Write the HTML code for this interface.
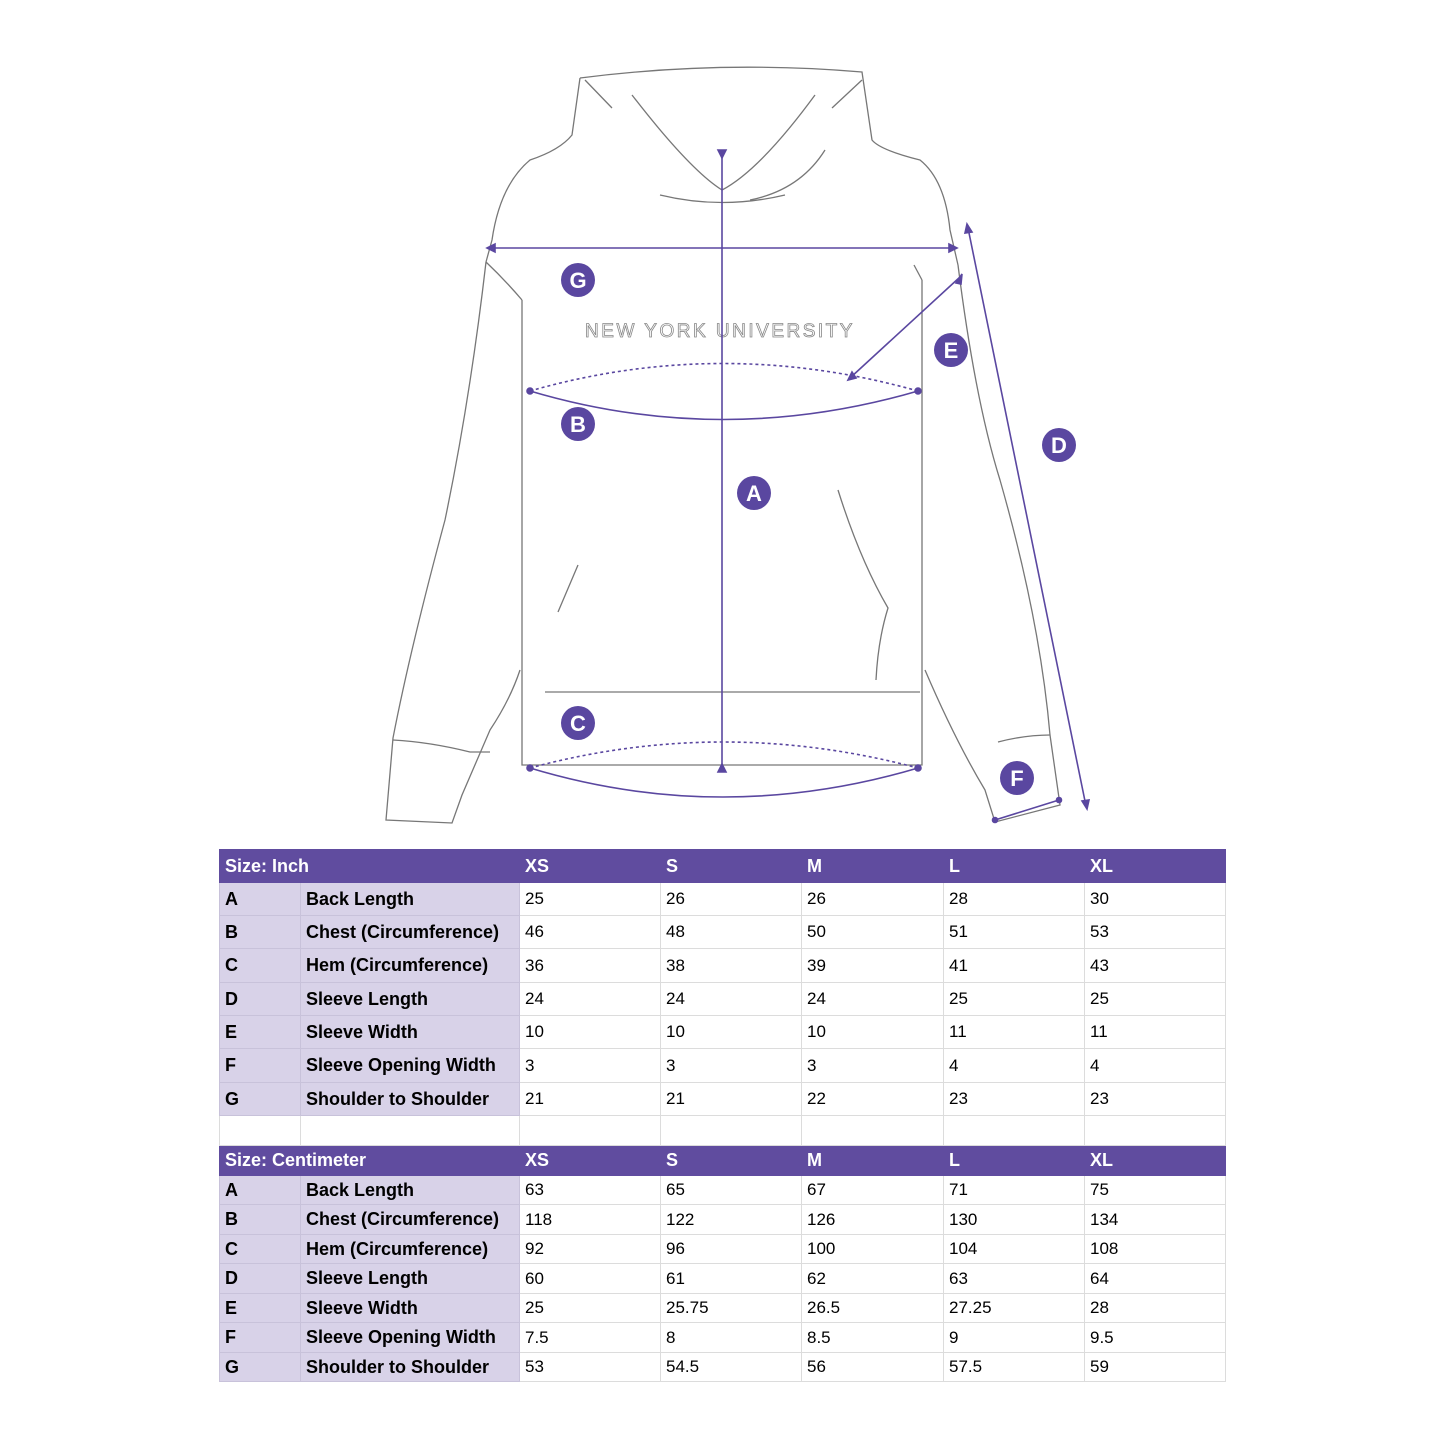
<!DOCTYPE html>
<html><head><meta charset="utf-8"><style>
body{margin:0;background:#fff;width:1445px;height:1445px;position:relative;overflow:hidden;font-family:"Liberation Sans",Arial,sans-serif}
svg{position:absolute;left:0;top:0}
.t{position:absolute;left:219px;border-collapse:collapse;table-layout:fixed;font-size:17px;color:#000}
.t td{border:1px solid #dcdcdc;padding:0 0 0 5px;white-space:nowrap;overflow:hidden}
.t tr.h td{background:#604c9f;color:#fff;font-weight:bold;border-color:#604c9f;font-size:18px}
.t td.l{background:#d8d2e8;font-weight:bold;border-color:#c8c2da;font-size:18px}
</style></head><body>
<svg width="1445" height="840" viewBox="0 0 1445 840">
<g fill="none" stroke="#777" stroke-width="1.3">
<path d="M580 78 Q720 60 862 72 L872 140 Q880 150 920 160 Q945 180 950 230 L958 265"/>
<path d="M580 78 L572 135 Q560 150 530 160 Q500 185 492 240 L486 262"/>
<path d="M585 80 L612 108 M632 95 Q690 170 722 190 M862 80 L832 108 M815 95 Q760 170 722 190"/>
<path d="M660 195 Q722 210 785 195 M825 150 Q800 190 750 200"/>
<path d="M486 262 Q470 400 445 520 Q410 650 393 738 L386 820 L452 823 L462 795 L490 730 Q510 700 520 670"/>
<path d="M393 740 Q430 742 470 752 L490 752"/>
<path d="M486 262 Q505 280 522 300"/>
<path d="M958 265 Q975 400 1000 480 Q1040 620 1050 735 L1060 805 L995 822 L985 790 Q955 740 925 670"/>
<path d="M998 742 Q1025 735 1050 735"/>
<path d="M914 265 L922 280"/>
<path d="M522 300 L522 765 L922 765 L922 280"/>
<path d="M545 692 L920 692"/>
<path d="M578 565 L558 612 M838 490 Q860 560 888 608 Q878 640 876 680"/>
</g>
<text x="720" y="337" text-anchor="middle" font-family="Liberation Sans,sans-serif" font-size="19" letter-spacing="2.5" fill="#fff" stroke="#888" stroke-width="0.8">NEW YORK UNIVERSITY</text>
<g stroke="#5a47a0" stroke-width="1.6" fill="#5a47a0">
<line x1="722" y1="152" x2="722" y2="770"/>
<polygon points="718,150 726,150 722,158"/><polygon points="718,772 726,772 722,764"/>
<line x1="489" y1="248" x2="955" y2="248"/>
<polygon points="487,248 495,244 495,252"/><polygon points="957,248 949,244 949,252"/>
<path d="M530 391 Q722 336 918 391" fill="none" stroke-dasharray="3,3"/>
<path d="M530 391 Q722 448 918 391" fill="none"/>
<circle cx="530" cy="391" r="3"/><circle cx="918" cy="391" r="3"/>
<path d="M530 768 Q722 716 918 768" fill="none" stroke-dasharray="3,3"/>
<path d="M530 768 Q722 826 918 768" fill="none"/>
<circle cx="530" cy="768" r="3"/><circle cx="918" cy="768" r="3"/>
<line x1="960" y1="277" x2="850" y2="378"/>
<polygon points="962,274 956,283 961,284"/><polygon points="848,380 852,372 856,378"/>
<line x1="968" y1="228" x2="1086" y2="806"/>
<polygon points="967,224 972,232 965,233"/><polygon points="1087,809 1082,801 1089,800"/>
<line x1="995" y1="820" x2="1059" y2="800"/>
<circle cx="995" cy="820" r="2.5"/><circle cx="1059" cy="800" r="2.5"/>
</g>
<g font-family="Liberation Sans,sans-serif" font-weight="bold" font-size="22" fill="#fff" text-anchor="middle">
<circle cx="578" cy="280" r="17" fill="#5a47a0"/><text x="578" y="288">G</text>
<circle cx="578" cy="424" r="17" fill="#5a47a0"/><text x="578" y="432">B</text>
<circle cx="951" cy="350" r="17" fill="#5a47a0"/><text x="951" y="358">E</text>
<circle cx="1059" cy="445" r="17" fill="#5a47a0"/><text x="1059" y="453">D</text>
<circle cx="754" cy="493" r="17" fill="#5a47a0"/><text x="754" y="501">A</text>
<circle cx="578" cy="723" r="17" fill="#5a47a0"/><text x="578" y="731">C</text>
<circle cx="1017" cy="778" r="17" fill="#5a47a0"/><text x="1017" y="786">F</text>
</g>
</svg>

<table class="t" style="top:849px">
<colgroup><col style="width:81px"><col style="width:219px"><col style="width:141px"><col style="width:141px"><col style="width:142px"><col style="width:141px"><col style="width:141px"></colgroup>
<tr class="h" style="height:33px"><td colspan="2">Size: Inch</td><td>XS</td><td>S</td><td>M</td><td>L</td><td>XL</td></tr>
<tr style="height:33px"><td class="l">A</td><td class="l">Back Length</td><td>25</td><td>26</td><td>26</td><td>28</td><td>30</td></tr>
<tr style="height:33px"><td class="l">B</td><td class="l">Chest (Circumference)</td><td>46</td><td>48</td><td>50</td><td>51</td><td>53</td></tr>
<tr style="height:34px"><td class="l">C</td><td class="l">Hem (Circumference)</td><td>36</td><td>38</td><td>39</td><td>41</td><td>43</td></tr>
<tr style="height:33px"><td class="l">D</td><td class="l">Sleeve Length</td><td>24</td><td>24</td><td>24</td><td>25</td><td>25</td></tr>
<tr style="height:33px"><td class="l">E</td><td class="l">Sleeve Width</td><td>10</td><td>10</td><td>10</td><td>11</td><td>11</td></tr>
<tr style="height:34px"><td class="l">F</td><td class="l">Sleeve Opening Width</td><td>3</td><td>3</td><td>3</td><td>4</td><td>4</td></tr>
<tr style="height:33px"><td class="l">G</td><td class="l">Shoulder to Shoulder</td><td>21</td><td>21</td><td>22</td><td>23</td><td>23</td></tr>
<tr style="height:30px"><td></td><td></td><td></td><td></td><td></td><td></td><td></td></tr>
<tr class="h" style="height:30px"><td colspan="2">Size: Centimeter</td><td>XS</td><td>S</td><td>M</td><td>L</td><td>XL</td></tr>
<tr style="height:29px"><td class="l">A</td><td class="l">Back Length</td><td>63</td><td>65</td><td>67</td><td>71</td><td>75</td></tr>
<tr style="height:30px"><td class="l">B</td><td class="l">Chest (Circumference)</td><td>118</td><td>122</td><td>126</td><td>130</td><td>134</td></tr>
<tr style="height:29px"><td class="l">C</td><td class="l">Hem (Circumference)</td><td>92</td><td>96</td><td>100</td><td>104</td><td>108</td></tr>
<tr style="height:30px"><td class="l">D</td><td class="l">Sleeve Length</td><td>60</td><td>61</td><td>62</td><td>63</td><td>64</td></tr>
<tr style="height:29px"><td class="l">E</td><td class="l">Sleeve Width</td><td>25</td><td>25.75</td><td>26.5</td><td>27.25</td><td>28</td></tr>
<tr style="height:30px"><td class="l">F</td><td class="l">Sleeve Opening Width</td><td>7.5</td><td>8</td><td>8.5</td><td>9</td><td>9.5</td></tr>
<tr style="height:29px"><td class="l">G</td><td class="l">Shoulder to Shoulder</td><td>53</td><td>54.5</td><td>56</td><td>57.5</td><td>59</td></tr>
</table>
</body></html>
